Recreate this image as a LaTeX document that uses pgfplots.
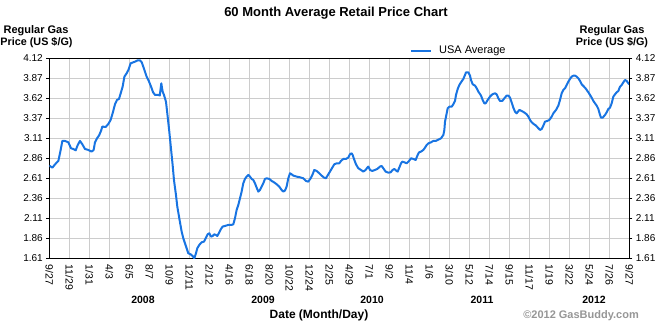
\documentclass[border=0pt]{standalone}
\usepackage{pgfplots}
\pgfplotsset{compat=1.18}
\usepackage{fontspec}
\setmainfont{Liberation Sans}
\definecolor{lineblue}{RGB}{24,116,226}
\definecolor{gridgray}{RGB}{204,204,204}
\definecolor{copygray}{RGB}{150,150,150}
\begin{document}
\begin{tikzpicture}[x=1pt,y=1pt]
\pgfplotsset{
  common/.style={
    at={(49.3pt,65.7pt)}, anchor=south west,
    scale only axis, width=580pt, height=200pt,
    xmin=0, xmax=261, ymin=1.61, ymax=4.12,
    ytick={1.61,1.861,2.112,2.363,2.614,2.865,3.116,3.367,3.618,3.869,4.12},
    yticklabels={1.61,1.86,2.11,2.36,2.61,2.86,3.11,3.37,3.62,3.87,4.12},
    /pgf/number format/assume math mode=true,
    tick label style={font=\fontsize{10}{12}\selectfont},
    tick align=outside,
  }
}
\begin{axis}[common,
  xtick={0,9,...,261},
  xticklabels={9/27,11/29,1/31,4/3,6/5,8/7,10/9,12/11,2/12,4/16,6/18,8/20,10/22,12/24,2/25,4/29,7/1,9/2,11/4,1/6,3/10,5/12,7/14,9/15,11/17,1/19,3/22,5/24,7/26,9/27},
  xticklabel style={rotate=-90, anchor=west, font=\fontsize{10.5}{12}\selectfont},
  xmajorgrids, ymajorgrids,
  grid style={gridgray, line width=0.8pt},
  axis line style={black, line width=0.9pt},
  ytick pos=left, xtick pos=bottom,
  x tick style={draw=none},
  y tick style={black, line width=0.8pt},
  major tick length=3pt,
  legend style={draw=none, fill=none, at={(0.62,1.0)}, anchor=south west,
    inner sep=1pt, font=\fontsize{11}{13}\selectfont},
  legend image code/.code={\draw[#1] (0pt,0pt) -- (20pt,0pt); \path (25pt,0pt);},
]
\addplot[lineblue, line width=2pt, line join=round] coordinates {
(0,2.773) (1.37,2.748) (3.0,2.802) (4.07,2.832) (4.97,2.949) (5.87,3.083)
(7.07,3.083) (8.56,3.066) (9.77,2.991) (10.8,2.982) (11.87,2.965) (12.8,3.032)
(13.8,3.083) (14.86,3.041) (16.06,2.982) (17.56,2.970) (19.06,2.949) (19.96,2.970)
(20.56,3.066) (21.47,3.116) (22.36,3.150) (23.26,3.208) (23.86,3.263) (25.36,3.258)
(26.56,3.296) (27.6,3.346) (28.5,3.430) (29.56,3.543) (30.46,3.597) (31.36,3.610)
(32.26,3.693) (33.0,3.764) (33.8,3.890) (34.8,3.932) (35.6,3.974) (36.6,4.057)
(37.8,4.070) (38.6,4.078) (39.8,4.095) (40.8,4.095) (41.6,4.070) (42.8,3.974)
(43.8,3.890) (44.9,3.827) (45.8,3.764) (46.7,3.693) (47.6,3.660) (49.1,3.660)
(49.7,3.652) (50.4,3.806) (51.0,3.702) (51.6,3.660) (52.5,3.576) (53.1,3.430)
(54.0,3.200) (54.75,2.991) (55.5,2.781) (56.1,2.593) (57.0,2.405) (57.6,2.259)
(58.5,2.112) (59.55,1.945) (60.3,1.861) (61.05,1.798) (61.8,1.736) (62.55,1.673)
(63.6,1.660) (64.5,1.639) (65.25,1.610) (66.0,1.673) (66.6,1.736) (67.5,1.778)
(68.55,1.811) (69.6,1.819) (70.5,1.870) (71.25,1.911) (72.0,1.924) (72.75,1.882)
(73.5,1.890) (74.25,1.911) (75.0,1.903) (75.6,1.890) (76.5,1.936) (77.25,1.978)
(78.0,2.008) (79.05,2.016) (80.55,2.029) (82.05,2.029) (82.8,2.037) (83.55,2.112)
(84.3,2.217) (85.05,2.279) (85.8,2.363) (86.55,2.447) (87.3,2.551) (88.05,2.606)
(88.8,2.635) (89.55,2.656) (90.3,2.635) (91.05,2.606) (91.8,2.593) (92.55,2.551)
(93.3,2.497) (94.05,2.447) (94.8,2.467) (95.55,2.509) (96.3,2.551) (97.05,2.606)
(97.8,2.614) (99.0,2.606) (100.05,2.581) (101.1,2.564) (102.3,2.539) (103.5,2.509)
(104.55,2.467) (105.3,2.447) (106.05,2.460) (106.8,2.510) (107.55,2.614) (108.3,2.677)
(109.05,2.664) (109.8,2.648) (111.3,2.635) (112.8,2.627) (114.3,2.614) (115.5,2.581)
(116.55,2.572) (117.6,2.614) (118.5,2.664) (119.25,2.719) (120.3,2.706) (121.5,2.677)
(122.55,2.648) (123.6,2.623) (124.5,2.614) (125.55,2.664) (126.3,2.698) (127.35,2.748)
(128.25,2.790) (129.3,2.802) (130.5,2.802) (131.25,2.832) (132.3,2.857) (133.5,2.857)
(134.55,2.874) (135.3,2.916) (136.05,2.928) (136.5,2.907) (137.1,2.857) (138.0,2.790)
(139.05,2.740) (140.25,2.719) (141.3,2.698) (142.35,2.719) (143.1,2.748) (143.55,2.761)
(144.3,2.719) (145.35,2.706) (146.55,2.719) (147.6,2.731) (148.8,2.761) (149.55,2.769)
(150.3,2.740) (151.35,2.698) (152.55,2.685) (153.6,2.689) (154.5,2.719) (155.25,2.731)
(156.3,2.706) (156.77,2.698) (157.37,2.740) (158.27,2.802) (158.87,2.823) (159.77,2.815)
(160.82,2.802) (161.87,2.832) (162.77,2.865) (163.82,2.857) (164.87,2.844) (165.77,2.907)
(166.37,2.940) (167.27,2.949) (168.32,2.970) (169.07,2.999) (169.82,3.032) (170.57,3.053)
(171.77,3.066) (172.82,3.083) (173.87,3.083) (175.07,3.099) (176.27,3.116) (177.32,3.158)
(177.77,3.221) (178.07,3.325) (178.52,3.388) (179.27,3.493) (180.02,3.513) (181.07,3.513)
(181.82,3.543) (182.57,3.585) (183.02,3.660) (183.77,3.735) (184.52,3.785) (185.27,3.819)
(186.32,3.861) (187.07,3.911) (187.52,3.944) (188.57,3.944) (189.32,3.902) (189.77,3.848)
(190.52,3.794) (191.57,3.777) (192.32,3.744) (193.07,3.702) (194.27,3.652) (195.02,3.597)
(195.77,3.555) (196.37,3.555) (197.27,3.597) (198.32,3.639) (199.37,3.668) (200.57,3.681)
(201.32,3.668) (202.07,3.618) (202.82,3.585) (203.87,3.585) (204.77,3.618) (205.82,3.652)
(206.57,3.652) (207.32,3.626) (208.07,3.565) (208.82,3.500) (209.57,3.450) (210.32,3.430)
(211.52,3.472) (212.57,3.459) (213.62,3.442) (214.82,3.417) (215.57,3.388) (216.32,3.346)
(217.07,3.317) (218.12,3.292) (219.02,3.275) (220.07,3.242) (220.82,3.221) (221.57,3.233)
(222.32,3.275) (223.07,3.325) (224.12,3.334) (225.02,3.346) (226.07,3.388) (226.82,3.430)
(228.02,3.472) (229.07,3.526) (229.82,3.597) (230.57,3.681) (231.32,3.723) (232.07,3.744)
(232.82,3.785) (233.57,3.827) (234.32,3.861) (235.07,3.890) (235.82,3.902) (236.57,3.902)
(237.32,3.890) (238.07,3.869) (238.82,3.836) (239.57,3.794) (240.62,3.764) (241.52,3.735)
(242.57,3.693) (243.32,3.660) (244.07,3.626) (244.82,3.585) (245.57,3.555) (246.32,3.526)
(247.07,3.484) (247.82,3.409) (248.27,3.375) (249.02,3.375) (250.07,3.409) (250.82,3.442)
(251.57,3.484) (252.32,3.501) (253.07,3.555) (253.82,3.639) (254.57,3.668) (255.32,3.693)
(256.07,3.710) (256.82,3.764) (257.57,3.785) (258.32,3.819) (259.07,3.848) (259.82,3.836)
(260.57,3.806) (261,3.794)
};
\addlegendentry{USA Average}
\end{axis}
\begin{axis}[common,
  axis x line=none, axis y line*=right,
  yticklabel pos=right,
  axis line style={black, line width=0.9pt},
  y tick style={black, line width=0.8pt},
  major tick length=3pt,
]
\end{axis}
% titles and labels
\node[anchor=base, font=\fontsize{13}{15}\selectfont\bfseries] at (336,307) {60 Month Average Retail Price Chart};
\node[anchor=base, font=\fontsize{11}{13}\selectfont\bfseries] at (36,290) {Regular Gas};
\node[anchor=base, font=\fontsize{10.8}{13}\selectfont\bfseries] at (36.5,278) {Price (US \$/G)};
\node[anchor=base, font=\fontsize{11}{13}\selectfont\bfseries] at (612,290) {Regular Gas};
\node[anchor=base, font=\fontsize{10.8}{13}\selectfont\bfseries] at (612,278) {Price (US \$/G)};
\node[anchor=base, font=\fontsize{10.5}{12}\selectfont\bfseries] at (143,21) {2008};
\node[anchor=base, font=\fontsize{10.5}{12}\selectfont\bfseries] at (263,21) {2009};
\node[anchor=base, font=\fontsize{10.5}{12}\selectfont\bfseries] at (372,21) {2010};
\node[anchor=base, font=\fontsize{10.5}{12}\selectfont\bfseries] at (482,21) {2011};
\node[anchor=base, font=\fontsize{10.5}{12}\selectfont\bfseries] at (594,21) {2012};
\node[anchor=base, font=\fontsize{12}{14}\selectfont\bfseries] at (319,6) {Date (Month/Day)};
\node[anchor=base east, inner sep=0pt, text=copygray, font=\fontsize{11}{13}\selectfont\bfseries] at (639,6) {©2012 GasBuddy.com};
\pgfresetboundingbox
\useasboundingbox (0,0) rectangle (666,324);
\end{tikzpicture}
\end{document}
